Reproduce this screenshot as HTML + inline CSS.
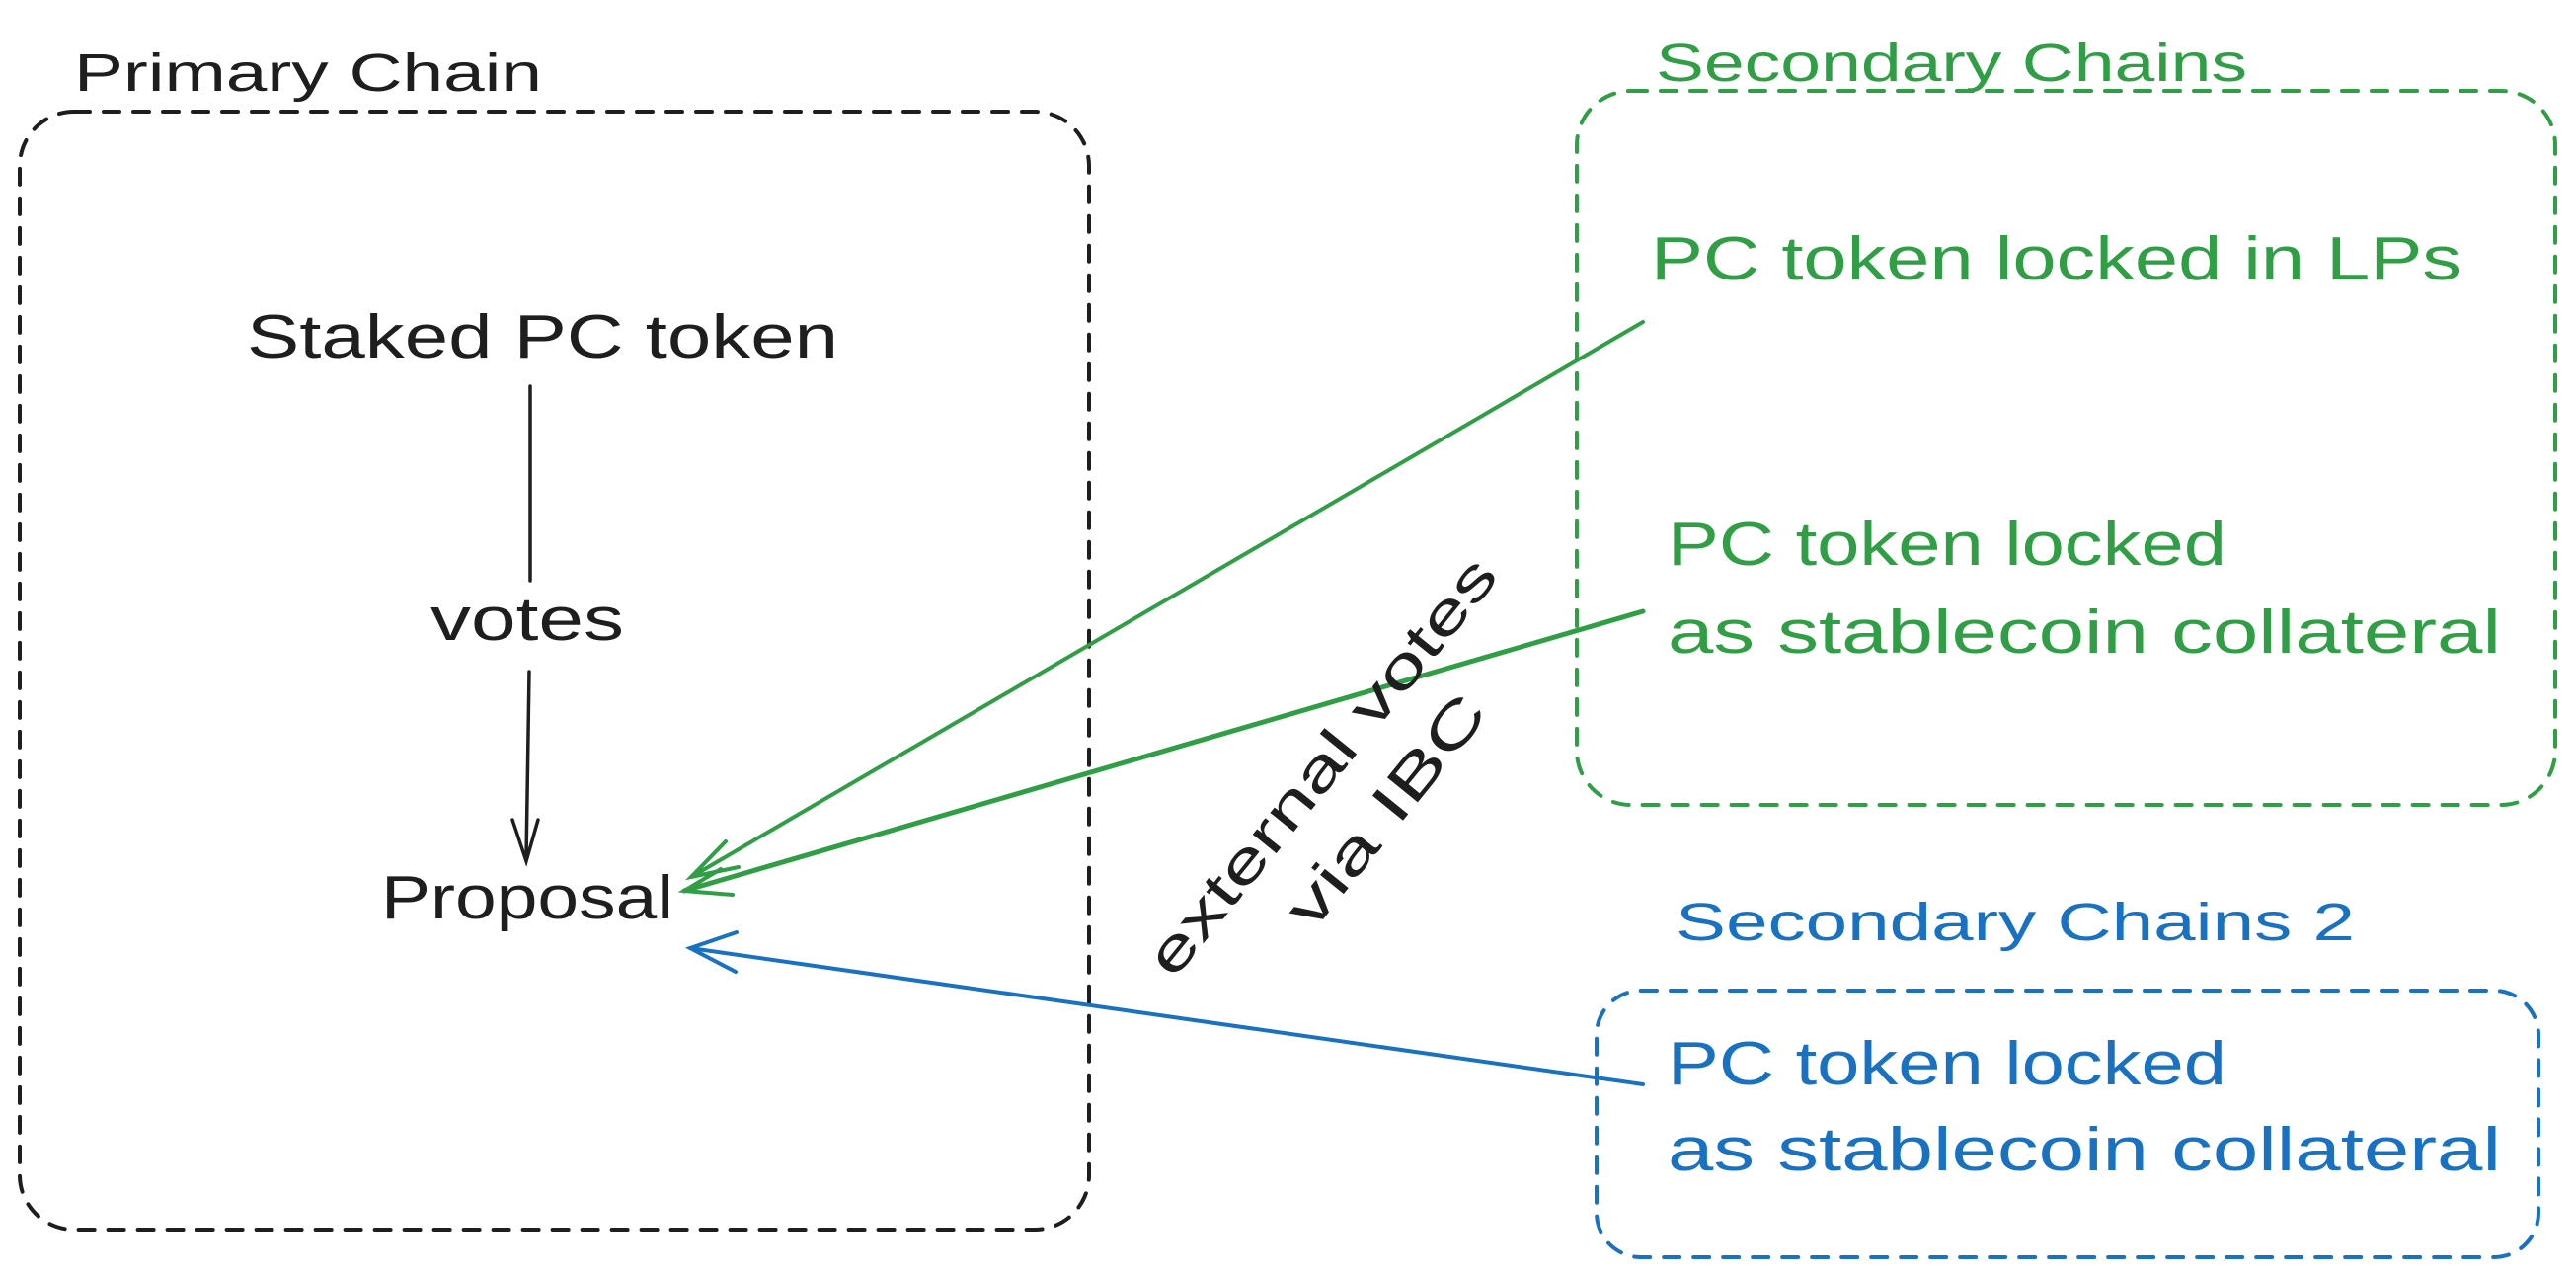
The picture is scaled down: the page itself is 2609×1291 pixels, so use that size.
<!DOCTYPE html>
<html><head><meta charset="utf-8"><style>
html,body{margin:0;padding:0;background:#fff;}
svg{display:block;}
text{font-family:"Liberation Sans","DejaVu Sans",sans-serif;}
</style></head><body>
<svg width="2609" height="1291" viewBox="0 0 2609 1291" xmlns="http://www.w3.org/2000/svg">
<rect width="2609" height="1291" fill="#fff"/>
<g fill="none" stroke-width="4" stroke-dasharray="16 14" stroke-linecap="round">
<rect x="20" y="113" width="1083" height="1132" rx="55" stroke="#1e1e1e"/>
<rect x="1597" y="92" width="991" height="723" rx="55" stroke="#2f9e44"/>
<rect x="1617" y="1003" width="954" height="270" rx="45" stroke="#1971c2"/>
</g>
<g font-size="58" fill="#1e1e1e" lengthAdjust="spacingAndGlyphs">
<text x="75" y="92" font-size="54" textLength="474" lengthAdjust="spacingAndGlyphs">Primary Chain</text>
<text x="250" y="362" font-size="62" textLength="599" lengthAdjust="spacingAndGlyphs">Staked PC token</text>
<text x="436" y="648" font-size="62" textLength="196" lengthAdjust="spacingAndGlyphs">votes</text>
<text x="386" y="930" font-size="62" textLength="296" lengthAdjust="spacingAndGlyphs">Proposal</text>
</g>
<g stroke="#1e1e1e" stroke-width="3.5" fill="none" stroke-linecap="round">
<line x1="537" y1="391" x2="537" y2="588"/>
<line x1="536" y1="680" x2="533" y2="870"/>
<polyline points="519,830 533,872 545,830"/>
</g>
<g font-size="62" fill="#2f9e44">
<text x="1677" y="82" font-size="54" textLength="599" lengthAdjust="spacingAndGlyphs">Secondary Chains</text>
<text x="1672" y="283" textLength="821" lengthAdjust="spacingAndGlyphs">PC token locked in LPs</text>
<text x="1689" y="572" textLength="566" lengthAdjust="spacingAndGlyphs">PC token locked</text>
<text x="1689" y="661" textLength="844" lengthAdjust="spacingAndGlyphs">as stablecoin collateral</text>
</g>
<g font-size="62" fill="#1971c2">
<text x="1697" y="952" font-size="54" textLength="688" lengthAdjust="spacingAndGlyphs">Secondary Chains 2</text>
<text x="1689" y="1098" textLength="566" lengthAdjust="spacingAndGlyphs">PC token locked</text>
<text x="1689" y="1185" textLength="844" lengthAdjust="spacingAndGlyphs">as stablecoin collateral</text>
</g>
<g stroke-width="4" fill="none" stroke-linecap="round">
<line x1="1664" y1="326" x2="700" y2="888" stroke="#2f9e44"/>
<polyline points="735,852 700,888 748,878" stroke="#2f9e44"/>
<line x1="1664" y1="619" x2="693" y2="902" stroke="#2f9e44" stroke-width="5"/>
<polyline points="730,880 693,902 742,906" stroke="#2f9e44"/>
<line x1="1664" y1="1098" x2="699" y2="960" stroke="#1971c2"/>
<polyline points="746,944 699,960 745,984" stroke="#1971c2"/>
</g>
<g font-size="58" fill="#1e1e1e" text-anchor="middle">
<text transform="translate(1340,777) rotate(-51)" x="0" y="18" textLength="526" lengthAdjust="spacingAndGlyphs">external votes</text>
<text transform="translate(1405,822) rotate(-51)" x="0" y="18" textLength="285" lengthAdjust="spacingAndGlyphs">via IBC</text>
</g>
</svg>
</body></html>
